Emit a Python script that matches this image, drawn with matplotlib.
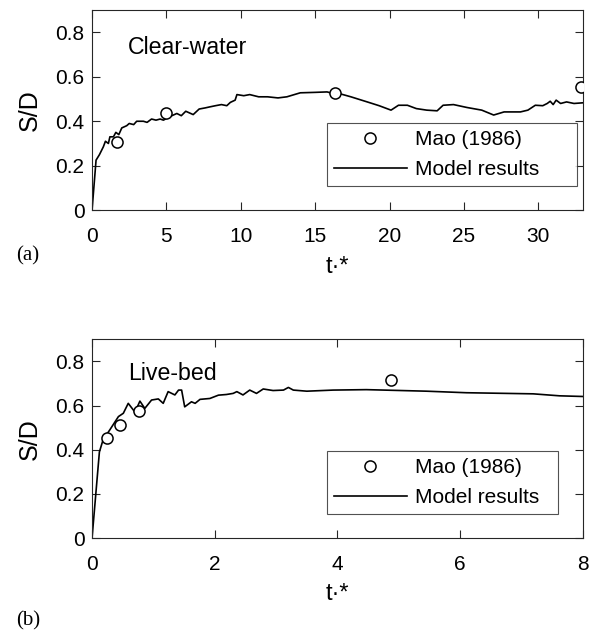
import matplotlib
matplotlib.use('Agg')
import matplotlib.pyplot as plt

plt.rcParams['font.family'] = ['Liberation Sans', 'DejaVu Sans']

# (a) clear-water
tA_model = [0, 0.27, 0.5, 0.76, 0.9, 1.1, 1.2, 1.44, 1.6, 1.8, 2.0, 2.33, 2.5, 2.8, 3.0, 3.45, 3.7,
            4.0, 4.3, 4.58, 4.8, 5.2, 5.7, 6.0, 6.3, 6.8, 7.2, 7.6, 7.94, 8.3, 8.7, 9.06, 9.3,
            9.62, 9.74, 10.2, 10.6, 11.2, 11.8, 12.5, 13.1, 14.0, 15.0, 15.8, 16.2, 16.6, 17.4,
            18.5, 19.3, 20.1, 20.6, 21.2, 21.8, 22.5, 23.2, 23.6, 24.3, 25.2, 26.2, 27.0, 27.7,
            28.8, 29.3, 29.8, 30.3, 30.6, 30.8, 31.0, 31.2, 31.5, 31.9, 32.4, 33.0]
sA_model = [0, 0.225, 0.25, 0.285, 0.31, 0.3, 0.33, 0.33, 0.35, 0.34, 0.37, 0.38, 0.39, 0.385, 0.4,
            0.40, 0.395, 0.41, 0.405, 0.41, 0.405, 0.42, 0.435, 0.425, 0.445, 0.43, 0.455, 0.46, 0.465,
            0.47, 0.475, 0.47, 0.485, 0.495, 0.52, 0.515, 0.52, 0.51, 0.51, 0.505, 0.51, 0.528,
            0.53, 0.532, 0.525, 0.525, 0.51, 0.487, 0.47, 0.45, 0.472, 0.472, 0.457, 0.45, 0.447,
            0.472, 0.475, 0.462, 0.45, 0.428, 0.442, 0.442, 0.45, 0.472, 0.47, 0.48, 0.49, 0.475,
            0.495, 0.48, 0.487, 0.48, 0.483]
tA_obs = [1.66, 4.96, 16.35, 32.9]
sA_obs = [0.307, 0.438, 0.528, 0.552]

# (b) live-bed
tB_model = [0, 0.12, 0.18, 0.29, 0.43, 0.51, 0.59, 0.70, 0.78, 0.86, 0.97, 1.08, 1.16, 1.24,
            1.35, 1.41, 1.46, 1.51, 1.62, 1.68, 1.76, 1.92, 2.06, 2.19, 2.3, 2.36, 2.46, 2.57,
            2.68, 2.79, 2.95, 3.12, 3.2, 3.28, 3.5, 3.93, 4.47, 5.45, 6.1, 7.19, 7.62, 8.0]
sB_model = [0, 0.39, 0.445, 0.49, 0.55, 0.565, 0.61, 0.57, 0.62, 0.587, 0.625, 0.63, 0.61,
            0.663, 0.648, 0.67, 0.67, 0.594, 0.617, 0.61, 0.628, 0.632, 0.647, 0.65, 0.655,
            0.663, 0.648, 0.67, 0.655, 0.675, 0.668, 0.67, 0.682, 0.67, 0.665, 0.67, 0.672,
            0.665, 0.658, 0.653, 0.644, 0.641]
tB_obs = [0.25, 0.45, 0.77, 4.88]
sB_obs = [0.455, 0.51, 0.575, 0.715]

fig = plt.figure(figsize=(5.9, 6.33), dpi=100)
axA = fig.add_axes([0.156, 0.668, 0.832, 0.316])
axB = fig.add_axes([0.156, 0.150, 0.832, 0.314])

dark = '#262626'
panels = [
    (axA, tA_model, sA_model, tA_obs, sA_obs, 33, [0, 5, 10, 15, 20, 25, 30], 'Clear-water', 0.815, '(a)', 0.596, 0.51),
    (axB, tB_model, sB_model, tB_obs, sB_obs, 8, [0, 2, 4, 6, 8], 'Live-bed', 0.83, '(b)', 0.019, 0.472),
]
for ax, tm, sm, to, so, xmax, xt, name, namey, tag, tagy, legw in panels:
    ax.plot(to, so, 'o', mfc='white', mec='black', ms=8, mew=1.1, ls='none', label='Mao (1986)', zorder=3)
    ax.plot(tm, sm, '-', color='black', lw=1.2, label='Model results', zorder=2)
    ax.set_xlim(0, xmax)
    ax.set_ylim(0, 0.9)
    ax.set_xticks(xt)
    ax.set_yticks([0, 0.2, 0.4, 0.6, 0.8])
    ax.set_yticklabels(['0', '0.2', '0.4', '0.6', '0.8'])
    ax.tick_params(direction='in', top=True, right=True, length=6, width=0.8,
                   labelsize=15, colors=dark, labelcolor='black')
    ax.tick_params(axis='x', pad=12)
    ax.tick_params(axis='y', pad=5.5)
    for s in ax.spines.values():
        s.set_color(dark)
        s.set_linewidth(0.8)
    ax.set_xlabel('t·*', fontsize=17, labelpad=7)
    ax.set_ylabel('S/D', fontsize=18, labelpad=10)
    ax.text(0.073, namey, name, transform=ax.transAxes, fontsize=16.7, va='center', ha='left')
    leg = ax.legend(loc='lower left', bbox_to_anchor=(0.478, 0.12, legw, 0.3), mode='expand',
                    fontsize=15, frameon=True, fancybox=False, edgecolor=dark, handlelength=3.5,
                    borderpad=0.35, labelspacing=0.5, handletextpad=0.4, borderaxespad=0)
    leg.get_frame().set_linewidth(0.8)
    fig.text(0.027, tagy, tag, fontsize=15, family='Liberation Serif', va='center')

fig.savefig('out.png', dpi=100)
